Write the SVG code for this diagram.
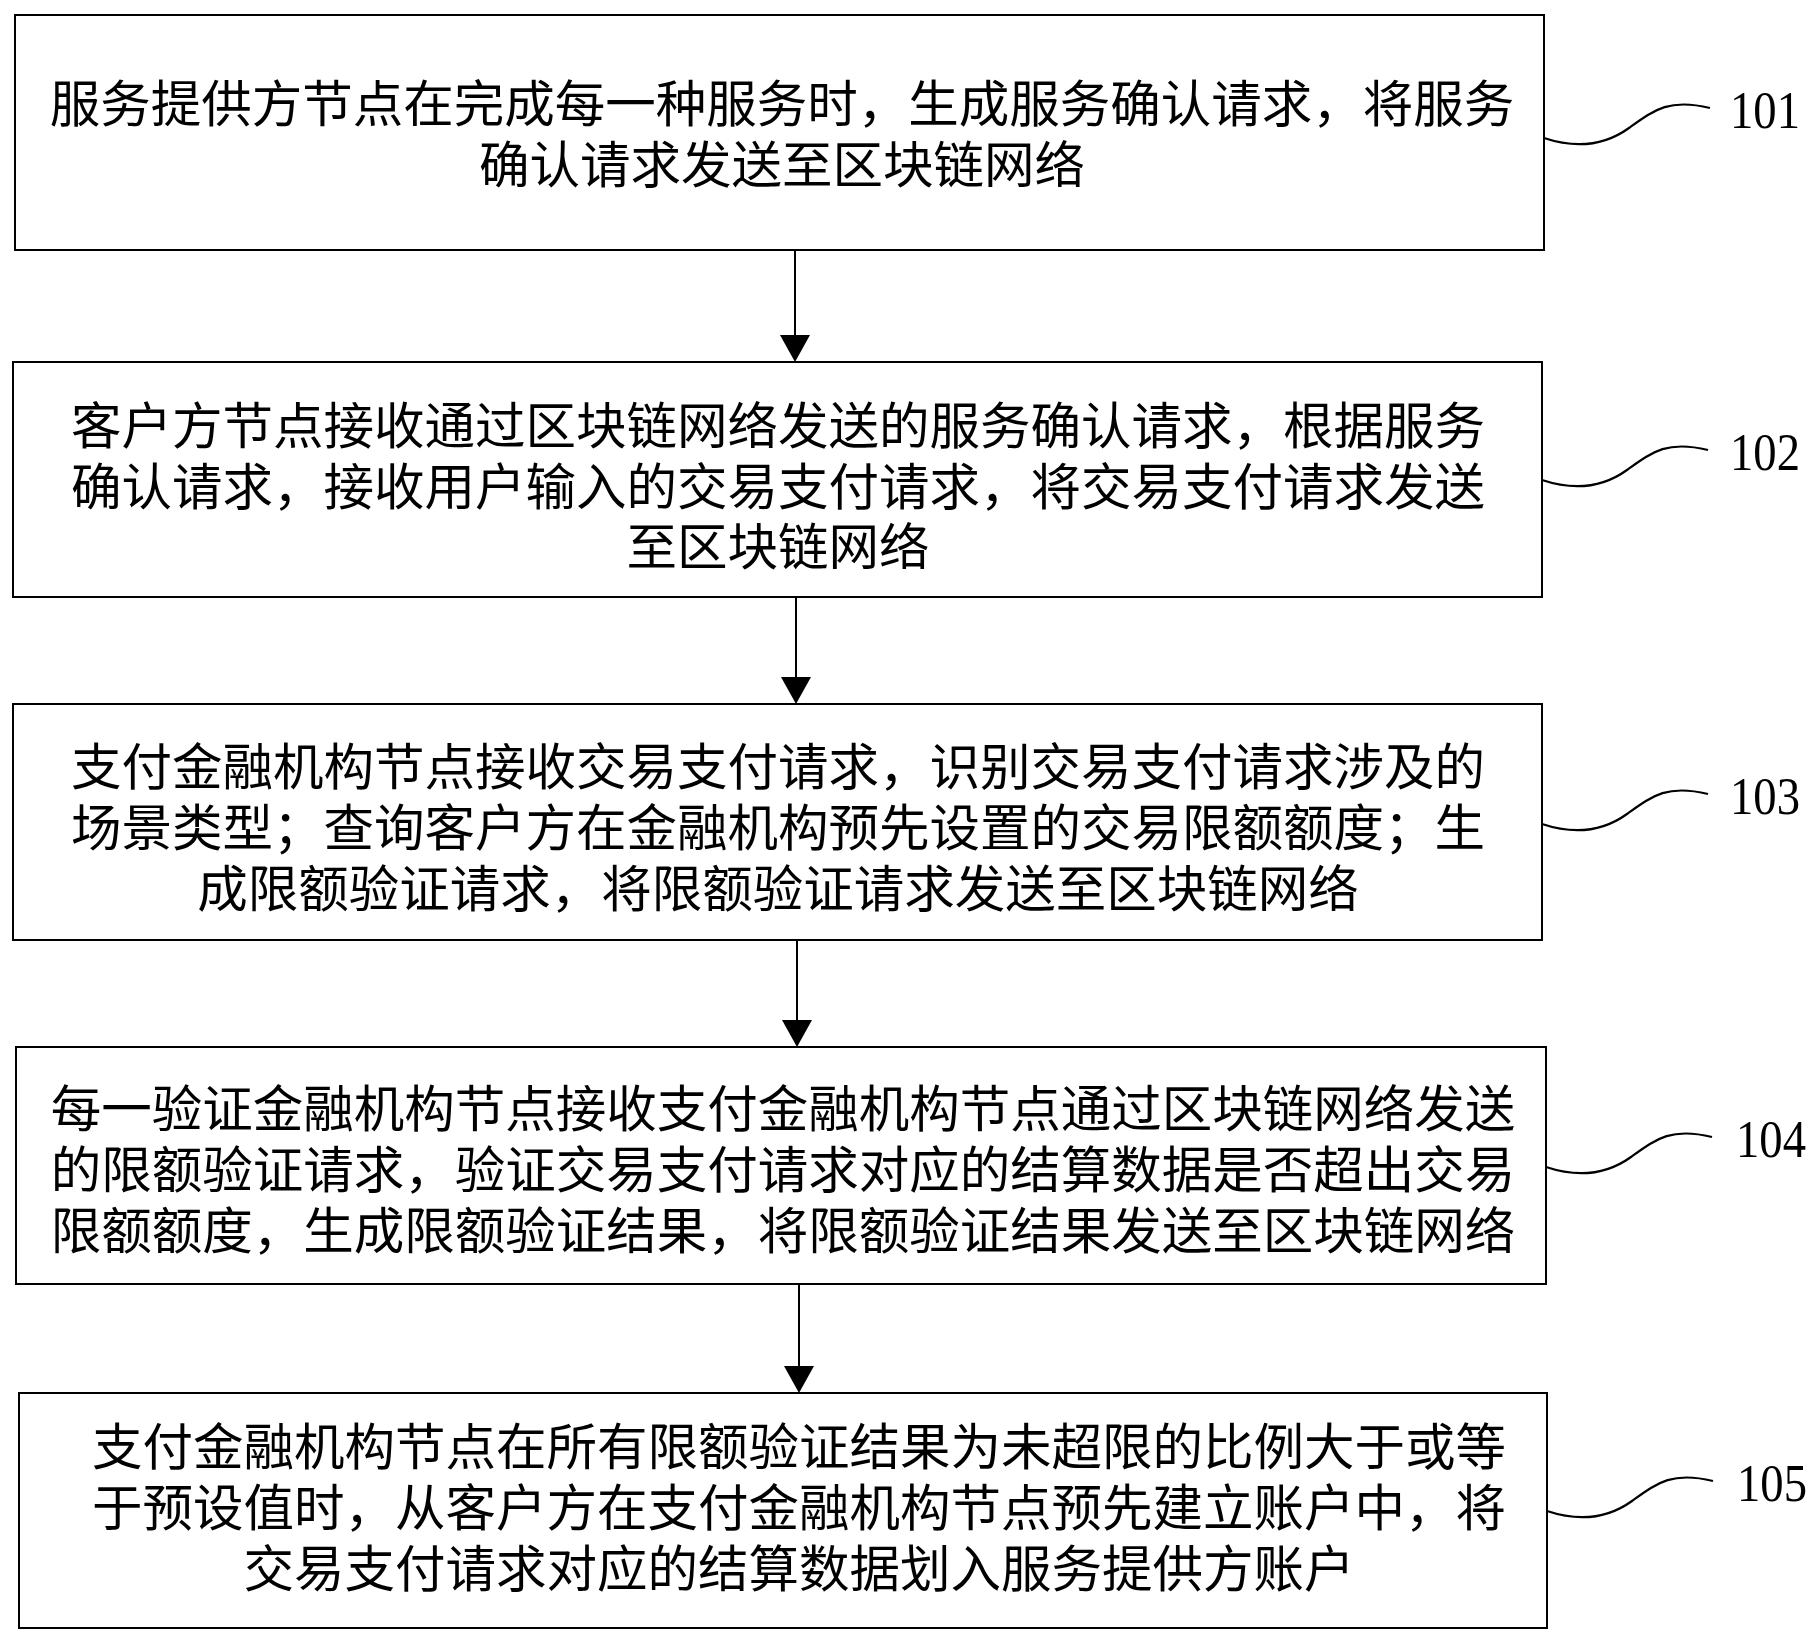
<svg xmlns="http://www.w3.org/2000/svg" width="1819" height="1642" viewBox="0 0 1819 1642">
<style>
.box{fill:#fff;stroke:#000;stroke-width:2}
.t{font-family:"Noto Sans CJK SC","Liberation Serif",sans-serif;font-size:50.5px;fill:#000;text-anchor:middle}
.lbl{font-family:"Liberation Serif","Times New Roman",serif;font-size:52px;fill:#000}
.wave{fill:none;stroke:#000;stroke-width:2.2}
.conn{stroke:#000;stroke-width:2;fill:none}
</style>
<defs>
<path id="wv" d="M0,10 C30,20 60,18 85,0 S125,-30 166,-20"/>
</defs>
<rect width="1819" height="1642" fill="#fff"/>
<g id="connectors">
<line class="conn" x1="795" y1="250" x2="795" y2="335"/>
<path d="M780,335 L810,335 L795,362 Z" fill="#000"/>
<line class="conn" x1="796" y1="597" x2="796" y2="677"/>
<path d="M781,677 L811,677 L796,704 Z" fill="#000"/>
<line class="conn" x1="797" y1="940" x2="797" y2="1020"/>
<path d="M782,1020 L812,1020 L797,1047 Z" fill="#000"/>
<line class="conn" x1="799" y1="1284" x2="799" y2="1366"/>
<path d="M784,1366 L814,1366 L799,1393 Z" fill="#000"/>
</g>
<g id="node101">
<rect class="box" x="15" y="15" width="1529" height="235"/>
<text class="t"><tspan x="782" y="122">服务提供方节点在完成每一种服务时，生成服务确认请求，将服务</tspan><tspan x="782" y="183">确认请求发送至区块链网络</tspan></text>
<use href="#wv" class="wave" transform="translate(1544,128)"/>
<text class="lbl" x="1730" y="128" textLength="70" lengthAdjust="spacingAndGlyphs">101</text>
</g>
<g id="node102">
<rect class="box" x="13" y="362" width="1529" height="235"/>
<text class="t"><tspan x="778" y="444">客户方节点接收通过区块链网络发送的服务确认请求，根据服务</tspan><tspan x="778" y="505">确认请求，接收用户输入的交易支付请求，将交易支付请求发送</tspan><tspan x="778" y="565">至区块链网络</tspan></text>
<use href="#wv" class="wave" transform="translate(1542,470)"/>
<text class="lbl" x="1730" y="470" textLength="70" lengthAdjust="spacingAndGlyphs">102</text>
</g>
<g id="node103">
<rect class="box" x="13" y="704" width="1529" height="236"/>
<text class="t"><tspan x="778" y="785">支付金融机构节点接收交易支付请求，识别交易支付请求涉及的</tspan><tspan x="778" y="846">场景类型；查询客户方在金融机构预先设置的交易限额额度；生</tspan><tspan x="778" y="907">成限额验证请求，将限额验证请求发送至区块链网络</tspan></text>
<use href="#wv" class="wave" transform="translate(1542,814)"/>
<text class="lbl" x="1730" y="814" textLength="70" lengthAdjust="spacingAndGlyphs">103</text>
</g>
<g id="node104">
<rect class="box" x="16" y="1047" width="1530" height="237"/>
<text class="t"><tspan x="783" y="1127">每一验证金融机构节点接收支付金融机构节点通过区块链网络发送</tspan><tspan x="783" y="1188">的限额验证请求，验证交易支付请求对应的结算数据是否超出交易</tspan><tspan x="783" y="1249">限额额度，生成限额验证结果，将限额验证结果发送至区块链网络</tspan></text>
<use href="#wv" class="wave" transform="translate(1546,1157)"/>
<text class="lbl" x="1736" y="1157" textLength="70" lengthAdjust="spacingAndGlyphs">104</text>
</g>
<g id="node105">
<rect class="box" x="19" y="1393" width="1528" height="235"/>
<text class="t"><tspan x="799" y="1465">支付金融机构节点在所有限额验证结果为未超限的比例大于或等</tspan><tspan x="799" y="1526">于预设值时，从客户方在支付金融机构节点预先建立账户中，将</tspan><tspan x="799" y="1587">交易支付请求对应的结算数据划入服务提供方账户</tspan></text>
<use href="#wv" class="wave" transform="translate(1547,1501)"/>
<text class="lbl" x="1737" y="1501" textLength="70" lengthAdjust="spacingAndGlyphs">105</text>
</g>
</svg>
